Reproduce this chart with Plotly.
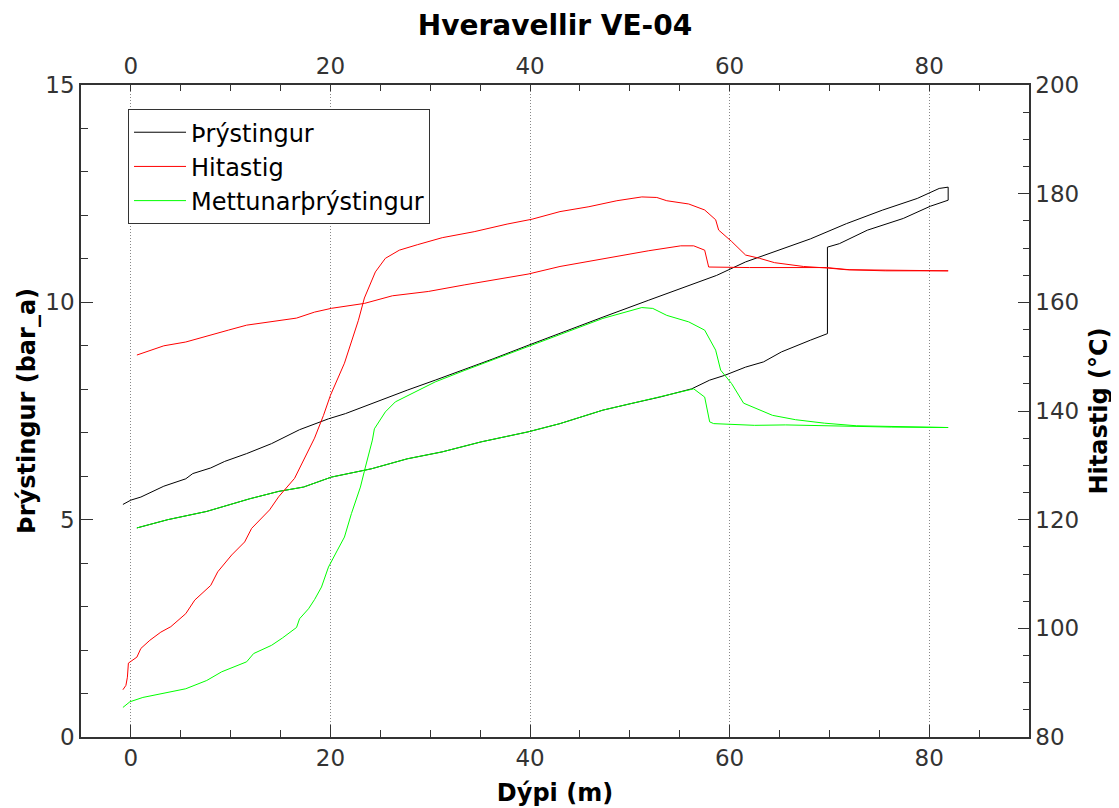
import plotly.graph_objects as go

# ---- Data (depth in m) ----
# Þrýstingur (pressure, bar_a): down-run then up-run
p_depth = [-0.8, 0.0, 1.0, 3.3, 5.5, 6.2, 8.0, 9.4, 11.6, 14.1, 16.9, 19.8, 21.5, 24.1, 25.5, 27.7,
           30.5, 33.4, 36.3, 39.8, 43.0, 47.3, 51.9, 55.9, 58.7, 61.6, 64.5, 68.1, 71.7, 75.3, 78.8,
           81.0, 81.9,
           81.9, 80.1, 77.4, 73.8, 71.0, 69.8, 69.8, 68.1, 66.0, 65.2, 63.4, 61.6, 59.5, 58.0, 56.2,
           53.0, 50.1, 47.3, 43.0, 39.8, 35.1, 31.2, 27.7, 24.1, 20.1, 17.3, 14.8, 11.9, 7.6, 3.7, 0.6]
p_bar = [5.35, 5.45, 5.52, 5.77, 5.94, 6.06, 6.19, 6.34, 6.52, 6.75, 7.07, 7.32, 7.44, 7.67, 7.78, 7.98,
         8.21, 8.45, 8.70, 9.01, 9.28, 9.66, 10.05, 10.39, 10.62, 10.93, 11.16, 11.46, 11.81, 12.12, 12.39,
         12.62, 12.65,
         12.35, 12.21, 11.93, 11.66, 11.35, 11.27, 9.28, 9.13, 8.93, 8.86, 8.63, 8.51, 8.32, 8.21, 8.01,
         7.82, 7.67, 7.52, 7.21, 7.02, 6.79, 6.56, 6.40, 6.17, 5.98, 5.75, 5.65, 5.48, 5.19, 5.00, 4.81]

# Hitastig (temperature, °C)
t_depth = [-0.8, -0.5, -0.35, -0.25, 0.6, 1.0, 1.9, 3.0, 4.0, 5.5, 6.4, 8.0, 8.7, 10.1, 11.4, 12.1,
           13.9, 14.8, 16.4, 17.3, 18.4, 19.3, 20.0, 21.4, 22.3, 22.8, 23.4, 24.5, 25.5, 26.9, 28.7,
           31.2, 34.4, 37.7, 40.2, 43.0, 45.9, 48.7, 51.2, 52.7, 53.7, 55.9, 57.5, 58.6, 58.9, 60.2,
           61.6, 63.0, 64.5, 67.4, 69.9, 71.7, 75.6, 81.9,
           81.9, 72.0, 69.7, 62.0, 57.9, 57.5, 56.4, 55.1, 54.0, 51.9, 43.0, 39.8, 33.4, 29.8, 26.2,
           23.4, 20.1, 18.4, 16.6, 14.8, 11.6, 9.8, 7.6, 5.5, 3.3, 0.6]
t_degc = [88.7, 89.5, 91.0, 93.6, 94.7, 96.3, 97.8, 99.3, 100.3, 102.7, 105.2, 107.9, 110.4, 113.5, 115.9, 118.4,
          121.8, 124.2, 127.6, 131.0, 135.0, 139.2, 142.9, 148.8, 153.7, 156.7, 160.8, 165.6, 168.1, 169.6, 170.6,
          171.9, 173.0, 174.4, 175.3, 176.7, 177.6, 178.7, 179.4, 179.3, 178.7, 178.1, 177.0, 175.2, 173.3, 171.2,
          168.7, 168.1, 167.3, 166.6, 166.3, 166.0, 165.8, 165.8,
          165.8, 166.0, 166.4, 166.4, 166.5, 169.6, 170.4, 170.4, 170.1, 169.5, 166.6, 165.2, 163.2, 162.0, 161.2,
          159.8, 158.9, 158.2, 157.1, 156.6, 155.8, 154.9, 153.7, 152.7, 152.0, 150.3]

# Mettunarþrýstingur (saturation pressure, bar_a)
s_depth = [-0.8, -0.1, 1.2, 3.3, 5.5, 7.6, 9.1, 11.6, 12.3, 14.1, 15.2, 16.6, 16.9, 17.8, 18.4, 19.1,
           19.8, 20.7, 21.4, 22.1, 23.0, 23.5, 24.2, 24.4, 25.5, 26.5, 28.0, 30.5, 33.4, 36.3, 39.8,
           43.0, 47.3, 51.2, 52.3, 53.7, 55.9, 57.5, 58.6, 59.1, 60.2, 61.4, 62.7, 64.3, 66.6, 69.5,
           72.7, 81.9,
           81.9, 76.2, 69.9, 65.6, 62.5, 58.4, 58.0, 57.5, 56.4, 53.0, 50.1, 47.3, 43.0, 39.8, 35.1,
           31.2, 27.7, 24.1, 20.1, 17.3, 14.8, 11.9, 7.6, 3.7, 0.6]
s_bar = [0.68, 0.81, 0.91, 1.00, 1.11, 1.30, 1.50, 1.73, 1.92, 2.11, 2.28, 2.52, 2.72, 2.95, 3.16, 3.45,
         3.91, 4.30, 4.60, 5.14, 5.75, 6.21, 6.83, 7.09, 7.48, 7.71, 7.88, 8.17, 8.43, 8.68, 8.98,
         9.25, 9.63, 9.88, 9.86, 9.70, 9.55, 9.36, 8.90, 8.44, 8.13, 7.68, 7.55, 7.40, 7.30, 7.22,
         7.16, 7.13,
         7.12, 7.13, 7.16, 7.18, 7.17, 7.21, 7.25, 7.82, 8.01, 7.82, 7.67, 7.52, 7.21, 7.02, 6.79,
         6.56, 6.40, 6.17, 5.98, 5.75, 5.65, 5.48, 5.19, 5.00, 4.81]

FONT = "DejaVu Sans"
AX = "#333333"

fig = go.Figure()
fig.add_trace(go.Scatter(x=p_depth, y=p_bar, mode="lines", name="Þrýstingur",
                         line=dict(color="#000000", width=1)))
fig.add_trace(go.Scatter(x=t_depth, y=t_degc, mode="lines", name="Hitastig",
                         xaxis="x2", yaxis="y2", line=dict(color="#ff0000", width=1)))
fig.add_trace(go.Scatter(x=s_depth, y=s_bar, mode="lines", name="Mettunarþrýstingur",
                         line=dict(color="#00ff00", width=1)))

tickfont = dict(family=FONT, size=23, color=AX)
titlefont = dict(family=FONT, size=24, color="#000000", weight="bold")

fig.update_layout(
    width=1111, height=800,
    margin=dict(l=73, r=90, t=77, b=71, autoexpand=False),
    paper_bgcolor="white", plot_bgcolor="white",
    font=dict(family=FONT, color=AX),
    title=dict(text="<b>Hveravellir VE-04</b>", x=0.5, xref="paper", xanchor="center",
               y=1 - 17 / 800, yref="container", yanchor="middle",
               font=dict(family=FONT, size=28, color="#000000")),
    showlegend=True,
    legend=dict(x=0.0496, y=0.963, xanchor="left", yanchor="top",
                bgcolor="white", bordercolor=AX, borderwidth=1,
                font=dict(family=FONT, size=24, color="#000000"),
                tracegroupgap=0, itemwidth=52),
    xaxis=dict(range=[-5, 90], tick0=0, dtick=20, ticks="inside", ticklen=12, tickwidth=1,
               tickcolor=AX, showline=True, linecolor=AX, linewidth=1.5,
               showgrid=True, gridcolor="#888888", griddash="1px,2px", gridwidth=1,
               zeroline=False, tickfont=tickfont,
               minor=dict(dtick=5, tick0=0, ticks="inside", ticklen=7, tickcolor=AX, showgrid=False),
               title=dict(text="Dýpi (m)", font=titlefont, standoff=14)),
    xaxis2=dict(range=[-5, 90], tick0=0, dtick=20, ticks="inside", ticklen=6, tickwidth=1,
                tickcolor=AX, showline=True, linecolor=AX, linewidth=1.5,
                overlaying="x", side="top", anchor="y2", showgrid=False, zeroline=False,
                tickfont=tickfont,
                minor=dict(dtick=5, tick0=0, ticks="inside", ticklen=6, tickcolor=AX, showgrid=False)),
    yaxis=dict(range=[0, 15], tick0=0, dtick=5, ticks="inside", ticklen=12, tickwidth=1,
               tickcolor=AX, showline=True, linecolor=AX, linewidth=1.5,
               showgrid=False, zeroline=False, tickfont=tickfont,
               minor=dict(dtick=1, tick0=0, ticks="inside", ticklen=7, tickcolor=AX, showgrid=False),
               title=dict(text="Þrýstingur (bar_a)", font=titlefont, standoff=3)),
    yaxis2=dict(range=[80, 200], tick0=80, dtick=20, ticks="inside", ticklen=11, tickwidth=1,
                tickcolor=AX, showline=True, linecolor=AX, linewidth=1.5,
                overlaying="y", side="right", anchor="x2", showgrid=False, zeroline=False,
                tickfont=tickfont,
                minor=dict(dtick=5, tick0=80, ticks="inside", ticklen=6, tickcolor=AX, showgrid=False),
                title=dict(text="Hitastig (°C)", font=titlefont, standoff=12)),
)

fig.write_html("out.html")
